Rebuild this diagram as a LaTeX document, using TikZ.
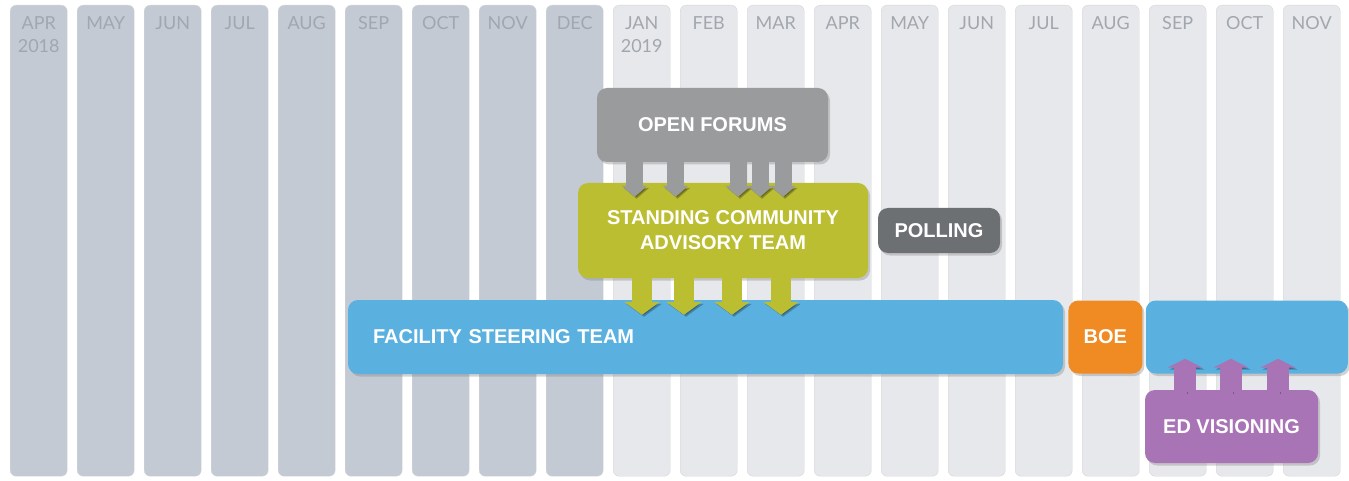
\documentclass[tikz,border=0pt]{standalone}
\usepackage{fontspec}
\setmainfont{Liberation Sans}
\newfontfamily\monthfont{Lato}
\usepackage{tikz}
\usetikzlibrary{arrows.meta,positioning,shadows}
\definecolor{colpast}{HTML}{C3CAD3}
\definecolor{colnext}{HTML}{E7E8EC}
\definecolor{monthgray}{HTML}{A2A7AE}
\definecolor{forumgray}{HTML}{9A9B9D}
\definecolor{advisoryolive}{HTML}{BCBE32}
\definecolor{steerblue}{HTML}{5AB1DF}
\definecolor{boeorange}{HTML}{F08B24}
\definecolor{visionpurple}{HTML}{A874B6}
\definecolor{pollgray}{HTML}{6C7073}
\tikzset{
  monthcol/.style={
    rectangle,
    rounded corners=6pt,
    draw=black!16,
    line width=0.4pt,
    minimum width=57pt,
    minimum height=471pt,
    inner sep=0pt,
    anchor=north west
  },
  monthtext/.style={
    anchor=north,
    inner sep=0pt,
    align=center,
    text=monthgray,
    font=\monthfont\fontsize{18}{23}\selectfont
  },
  phasebox/.style={
    rectangle,
    rounded corners=10pt,
    inner sep=0pt,
    align=center,
    text=white,
    font=\bfseries\fontsize{20}{25}\selectfont,
    drop shadow={shadow xshift=2pt,shadow yshift=-2.5pt,opacity=.35}
  },
  arrowshade/.style={
    preaction={draw=black,opacity=.25,transform canvas={shift={(2pt,-2pt)}}}
  },
  forumarrow/.style={
    -{Triangle[length=11pt,width=25pt]},
    line width=17pt,
    draw=forumgray,
    arrowshade
  },
  advisoryarrow/.style={
    -{Triangle[length=13pt,width=35pt]},
    line width=20pt,
    draw=advisoryolive,
    arrowshade
  },
  visionarrow/.style={
    -{Triangle[length=9pt,width=35pt]},
    line width=22pt,
    draw=visionpurple,
    arrowshade
  }
}

\begin{document}
\begin{tikzpicture}[x=1pt,y=-1pt]
    \useasboundingbox[fill=white] (0,0) rectangle (1349,481);

    \foreach \m [count=\i from 0] in {APR\\2018,MAY,JUN,JUL,AUG,SEP,OCT,NOV,DEC,
        JAN\\2019,FEB,MAR,APR,MAY,JUN,JUL,AUG,SEP,OCT,NOV} {
        \ifnum\i<9 \def\colfill{colpast}\else\def\colfill{colnext}\fi
        \node[monthcol, fill=\colfill] (col\i) at ({10+67*\i},5) {};
        \node[monthtext] (month\i) at ([yshift=-11pt]col\i.north) {\m};
    }

    \node[phasebox, fill=forumgray, minimum width=231pt, minimum height=74pt] (forums) at (712.5,125) {OPEN FORUMS};
    \node[phasebox, fill=advisoryolive, minimum width=290pt, minimum height=95pt] (advisory) at (723,230.5) {STANDING COMMUNITY\\ADVISORY TEAM};
    \node[phasebox, fill=pollgray, minimum width=122pt, minimum height=45pt] (polling) at (939,230.5) {POLLING};

    \foreach \x in {634.5,675.5,738,760,783}
        \draw[forumarrow] ([yshift=2pt]forums.south -| \x,0) -- ([yshift=-14pt]advisory.north -| \x,0);

    \node[phasebox, fill=steerblue, minimum height=74pt, text width=665pt, inner xsep=25pt, align=left] (steering) at (705.5,337) {FACILITY STEERING TEAM};
    \node[phasebox, fill=boeorange, minimum width=74pt, minimum height=73pt, right=5pt of steering] (boe) {BOE};
    \node[phasebox, fill=steerblue, minimum width=202pt, minimum height=73pt, right=3pt of boe] (steeringcont) {};

    \foreach \x in {642,684,732,781}
        \draw[advisoryarrow] ([yshift=2pt]advisory.south -| \x,0) -- ([yshift=-15pt]steering.north -| \x,0);

    \node[phasebox, fill=visionpurple, minimum width=173pt, minimum height=73pt] (visioning) at (1231.5,426.5) {ED VISIONING};

    \foreach \x in {1185,1231,1278}
        \draw[visionarrow] ([yshift=-2pt]visioning.north -| \x,0) -- ([yshift=15pt]steeringcont.south -| \x,0);
\end{tikzpicture}
\end{document}
